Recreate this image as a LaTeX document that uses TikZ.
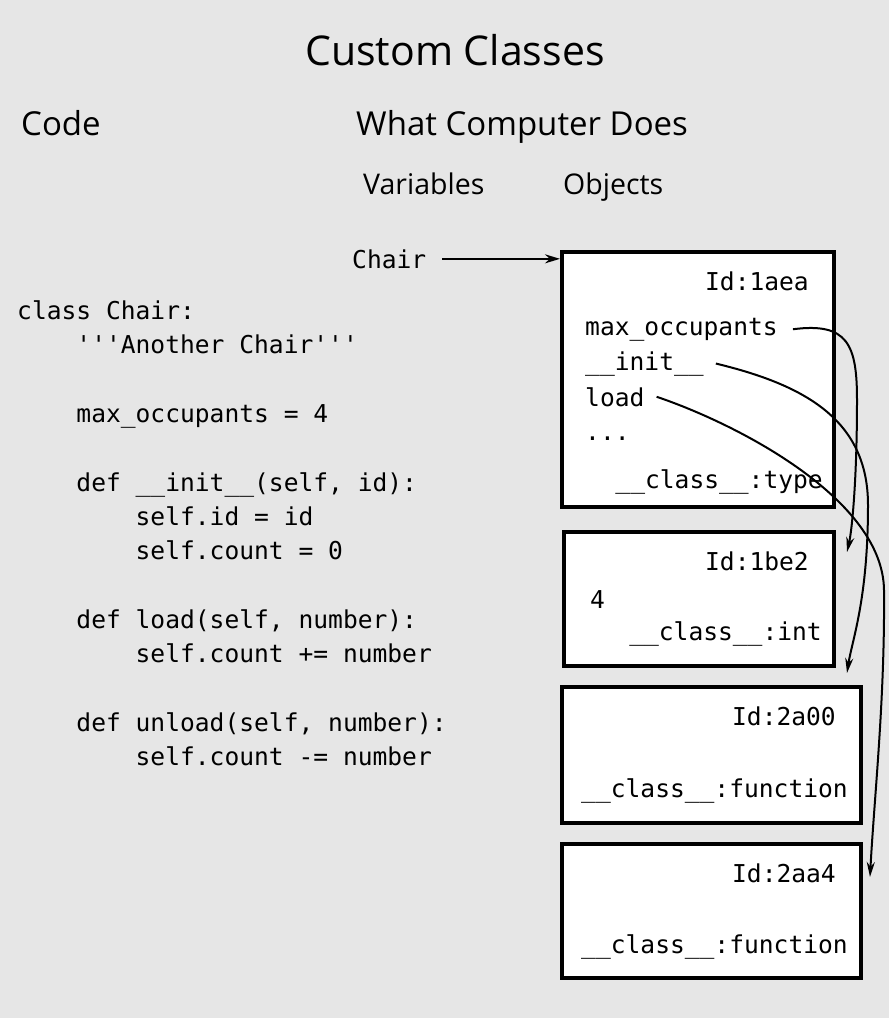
\documentclass[tikz,border=0pt]{standalone}
\usepackage{fontspec}
\setmainfont{Open Sans}
\setmonofont{DejaVu Sans Mono}
\usepackage{tikz}
\usetikzlibrary{arrows.meta}
\definecolor{bggray}{HTML}{E6E6E6}
\newcommand{\pyind}{\hphantom{0000}}

\begin{document}
\begin{tikzpicture}[x=1pt, y=-1pt,
  obj/.style={draw=black, line width=4pt, fill=white, inner sep=0pt},
  code/.style={font=\fontsize{24.6}{34.3}\selectfont\ttfamily, inner sep=0pt, anchor=base west},
  idtag/.style={code, anchor=base east},
  head/.style={inner sep=0pt, anchor=base west},
  arrow/.style={-{Stealth[length=15pt, width=9pt]}, line width=2.2pt},
  link/.style={-{Stealth[length=15pt, width=8pt]}, line width=2pt},
]
  \fill[bggray] (0,0) rectangle (889,1018);

  % headings
  \node[head, anchor=base, font=\fontsize{41}{50}\selectfont] (title) at (455,65) {Custom Classes};
  \node[head, font=\fontsize{33}{40}\selectfont] (codehd) at (21,135) {Code};
  \node[head, font=\fontsize{33}{40}\selectfont] (comphd) at (356,135) {What Computer Does};
  \node[head, font=\fontsize{28.5}{34}\selectfont] (varhd) at (363,194) {Variables};
  \node[head, font=\fontsize{28.5}{34}\selectfont] (objhd) at (563,194) {Objects};

  % source code
  \node[code, anchor=north west, align=left] (listing) at (17,300.5) {%
    class Chair:\\
    \pyind'''Another Chair'''\\[34.3pt]
    \pyind max\_occupants = 4\\[34.3pt]
    \pyind def \_\_init\_\_(self, id):\\
    \pyind\pyind self.id = id\\
    \pyind\pyind self.count = 0\\[34.3pt]
    \pyind def load(self, number):\\
    \pyind\pyind self.count += number\\[34.3pt]
    \pyind def unload(self, number):\\
    \pyind\pyind self.count -= number};

  % objects
  \node[obj, minimum width=272pt, minimum height=255pt] (o1) at (698,379.5) {};
  \node[obj, minimum width=270pt, minimum height=134pt] (o2) at (699,599) {};
  \node[obj, minimum width=299pt, minimum height=136pt] (o3) at (711.5,755) {};
  \node[obj, minimum width=299pt, minimum height=134pt] (o4) at (711.5,911) {};

  \node[idtag] (id1) at (809,290) {Id:1aea};
  \node[code] (mocc) at (585,335) {max\_occupants};
  \node[code] (init) at (585,370) {\_\_init\_\_};
  \node[code] (load) at (585,406) {load};
  \node[code] (more) at (585,440) {...};
  \node[idtag] (cls1) at (823,488) {\_\_class\_\_:type};

  \node[idtag] (id2) at (809,570) {Id:1be2};
  \node[code] (four) at (590,608) {4};
  \node[idtag] (cls2) at (822,640) {\_\_class\_\_:int};

  \node[idtag] (id3) at (836,725) {Id:2a00};
  \node[idtag] (cls3) at (848,797) {\_\_class\_\_:function};

  \node[idtag] (id4) at (836,882) {Id:2aa4};
  \node[idtag] (cls4) at (848,953) {\_\_class\_\_:function};

  % variable
  \node[code] (chair) at (352,268) {Chair};
  \draw[arrow] ([xshift=16pt]chair.east) -- (o1.west |- chair.east);

  % references from the class object
  \coordinate (t2) at (847,552);
  \coordinate (t3) at (847,673);
  \coordinate (t4) at (870,877);
  \draw[link] ([xshift=15pt]mocc.east) .. controls (848,322) and (857,345) .. (857,400)
    .. controls (857,480) and (852,530) .. (t2);
  \draw[link] ([xshift=12pt]init.east) .. controls (805,385) and (868,420) .. (868,505)
    .. controls (868,600) and (852,640) .. (t3);
  \draw[link] ([xshift=12pt]load.east) .. controls (740,425) and (883,500) .. (884,590)
    .. controls (885,700) and (874,800) .. (t4);
\end{tikzpicture}
\end{document}
